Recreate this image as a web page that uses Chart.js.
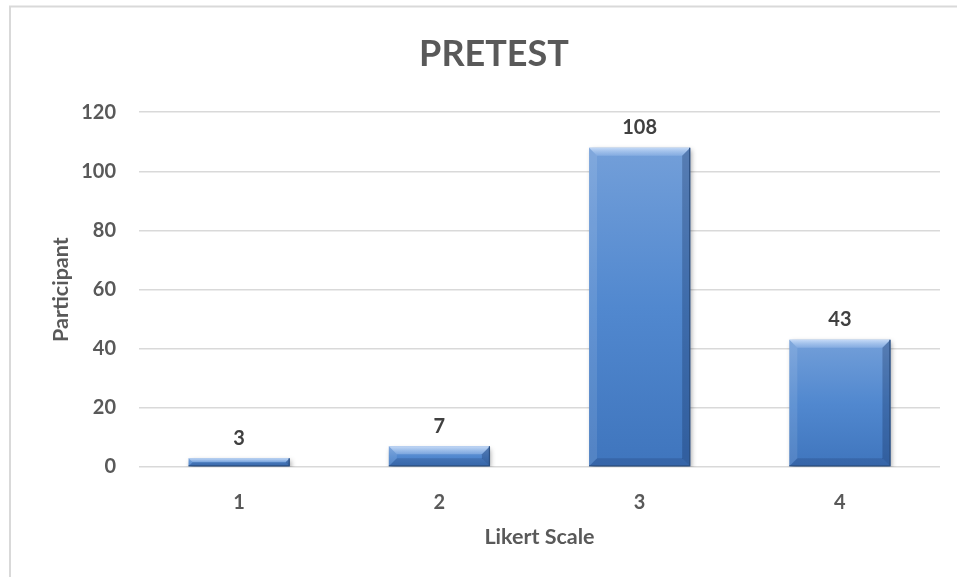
<!DOCTYPE html>
<html>
<head>
<meta charset="utf-8">
<script src="https://cdn.jsdelivr.net/npm/chart.js@4.4.1/dist/chart.umd.min.js"></script>
<style>
  html, body { margin: 0; padding: 0; background: #ffffff; overflow: hidden; }
  #wrap { width: 957px; height: 577px; position: relative; }
</style>
</head>
<body>
<div id="wrap"><canvas id="chart" width="957" height="577"></canvas></div>
<script>
// Likert responses in the pretest
const categories = ['1', '2', '3', '4'];
const participants = [3, 7, 108, 43];
const yTicks = [0, 20, 40, 60, 80, 100, 120];

const chartTitle = 'PRETEST';
const xTitle = 'Likert Scale';
const yTitle = 'Participant';

const FONT = 'Lato, "Open Sans", "Liberation Sans", sans-serif';
const GREY = '#595959';
const GRID = '#d9d9d9';

// White page with a light frame around the chart
const framePlugin = {
  id: 'frame',
  beforeDraw(chart) {
    const ctx = chart.ctx;
    ctx.save();
    ctx.fillStyle = '#ffffff';
    ctx.fillRect(0, 0, chart.width, chart.height);
    ctx.strokeStyle = '#d9d9d9';
    ctx.lineWidth = 2;
    ctx.strokeRect(10, 6.5, chart.width + 50, chart.height + 50);
    ctx.restore();
  }
};

// Soft drop shadow under the bars
const shadowPlugin = {
  id: 'barShadow',
  beforeDatasetDraw(chart) {
    const ctx = chart.ctx;
    ctx.save();
    ctx.shadowColor = 'rgba(0,0,0,0.35)';
    ctx.shadowBlur = 5;
    ctx.shadowOffsetX = 1.5;
    ctx.shadowOffsetY = 2.5;
  },
  afterDatasetDraw(chart) {
    chart.ctx.restore();
  }
};

// Bevelled edges on each bar plus the value above it
const bevelPlugin = {
  id: 'bevel',
  afterDatasetsDraw(chart) {
    const ctx = chart.ctx;
    const meta = chart.getDatasetMeta(0);
    meta.data.forEach((bar, i) => {
      const p = bar.getProps(['x', 'y', 'base', 'width'], true);
      const L = p.x - p.width / 2, R = p.x + p.width / 2;
      const T = Math.min(p.y, p.base), B = Math.max(p.y, p.base);
      const h = B - T, w = R - L;
      const b = Math.min(8, h / 2, w / 2);
      ctx.save();
      // top facet
      let g = ctx.createLinearGradient(0, T, 0, T + b);
      g.addColorStop(0, 'rgba(200,220,248,0.95)');
      g.addColorStop(1, 'rgba(150,185,232,0.55)');
      ctx.fillStyle = g;
      ctx.beginPath();
      ctx.moveTo(L, T); ctx.lineTo(R, T); ctx.lineTo(R - b, T + b); ctx.lineTo(L + b, T + b); ctx.closePath();
      ctx.fill();
      // left facet
      ctx.fillStyle = 'rgba(255,255,255,0.10)';
      ctx.beginPath();
      ctx.moveTo(L, T); ctx.lineTo(L + b, T + b); ctx.lineTo(L + b, B - b); ctx.lineTo(L, B); ctx.closePath();
      ctx.fill();
      // right facet
      ctx.fillStyle = 'rgba(15,35,80,0.28)';
      ctx.beginPath();
      ctx.moveTo(R, T); ctx.lineTo(R, B); ctx.lineTo(R - b, B - b); ctx.lineTo(R - b, T + b); ctx.closePath();
      ctx.fill();
      // bottom facet
      ctx.fillStyle = 'rgba(15,35,80,0.18)';
      ctx.beginPath();
      ctx.moveTo(L, B); ctx.lineTo(R, B); ctx.lineTo(R - b, B - b); ctx.lineTo(L + b, B - b); ctx.closePath();
      ctx.fill();
      // dark outline on the shaded sides
      ctx.strokeStyle = '#2c4f80';
      ctx.lineWidth = 1.2;
      ctx.beginPath();
      ctx.moveTo(R - 0.5, T); ctx.lineTo(R - 0.5, B - 0.5); ctx.lineTo(L, B - 0.5);
      ctx.stroke();
      ctx.restore();

      // value label
      ctx.save();
      ctx.fillStyle = '#404040';
      ctx.font = 'bold 20px ' + FONT;
      ctx.textAlign = 'center';
      ctx.textBaseline = 'middle';
      ctx.fillText(String(participants[i]), p.x, T - 20);
      ctx.restore();
    });
  }
};

function barFill(context) {
  const chart = context.chart;
  const y = chart.scales && chart.scales.y;
  if (!y || !chart.chartArea) return '#4f86cc';
  const top = y.getPixelForValue(context.raw);
  const base = y.getPixelForValue(0);
  const g = chart.ctx.createLinearGradient(0, top, 0, base);
  g.addColorStop(0, '#739fd9');
  g.addColorStop(0.5, '#5188cf');
  g.addColorStop(1, '#3f75bd');
  return g;
}

new Chart(document.getElementById('chart'), {
  type: 'bar',
  data: {
    labels: categories,
    datasets: [{
      label: yTitle,
      data: participants,
      backgroundColor: barFill,
      borderWidth: 0,
      categoryPercentage: 1.0,
      barPercentage: 0.505
    }]
  },
  options: {
    responsive: false,
    animation: false,
    devicePixelRatio: 1,
    layout: { padding: { left: 48, right: 17, top: 0, bottom: 27 } },
    plugins: {
      legend: { display: false },
      tooltip: { enabled: false },
      title: {
        display: true,
        text: chartTitle,
        color: GREY,
        font: { family: FONT, size: 36, weight: 'bold' },
        padding: { top: 33, bottom: 36 }
      }
    },
    scales: {
      x: {
        afterFit(scale) { scale.height = 83; },
        grid: { display: false, drawTicks: false },
        border: { display: false },
        ticks: {
          color: GREY,
          font: { family: FONT, size: 20, weight: 'bold' },
          padding: 24
        },
        title: {
          display: true,
          text: xTitle,
          color: GREY,
          font: { family: FONT, size: 21.5, weight: 'bold' },
          padding: { top: 12, bottom: 0 }
        }
      },
      y: {
        min: 0,
        max: 120,
        afterBuildTicks(scale) {
          scale.ticks = yTicks.map(v => ({ value: v }));
        },
        afterFit(scale) { scale.width = 91; },
        grid: { color: GRID, lineWidth: 1.5, drawTicks: false },
        border: { display: false },
        ticks: {
          color: GREY,
          font: { family: FONT, size: 20, weight: 'bold' },
          padding: 23
        },
        title: {
          display: true,
          text: yTitle,
          color: GREY,
          font: { family: FONT, size: 21.5, weight: 'bold' },
          padding: { top: 0, bottom: 0 }
        }
      }
    }
  },
  plugins: [framePlugin, shadowPlugin, bevelPlugin]
});
</script>
</body>
</html>
